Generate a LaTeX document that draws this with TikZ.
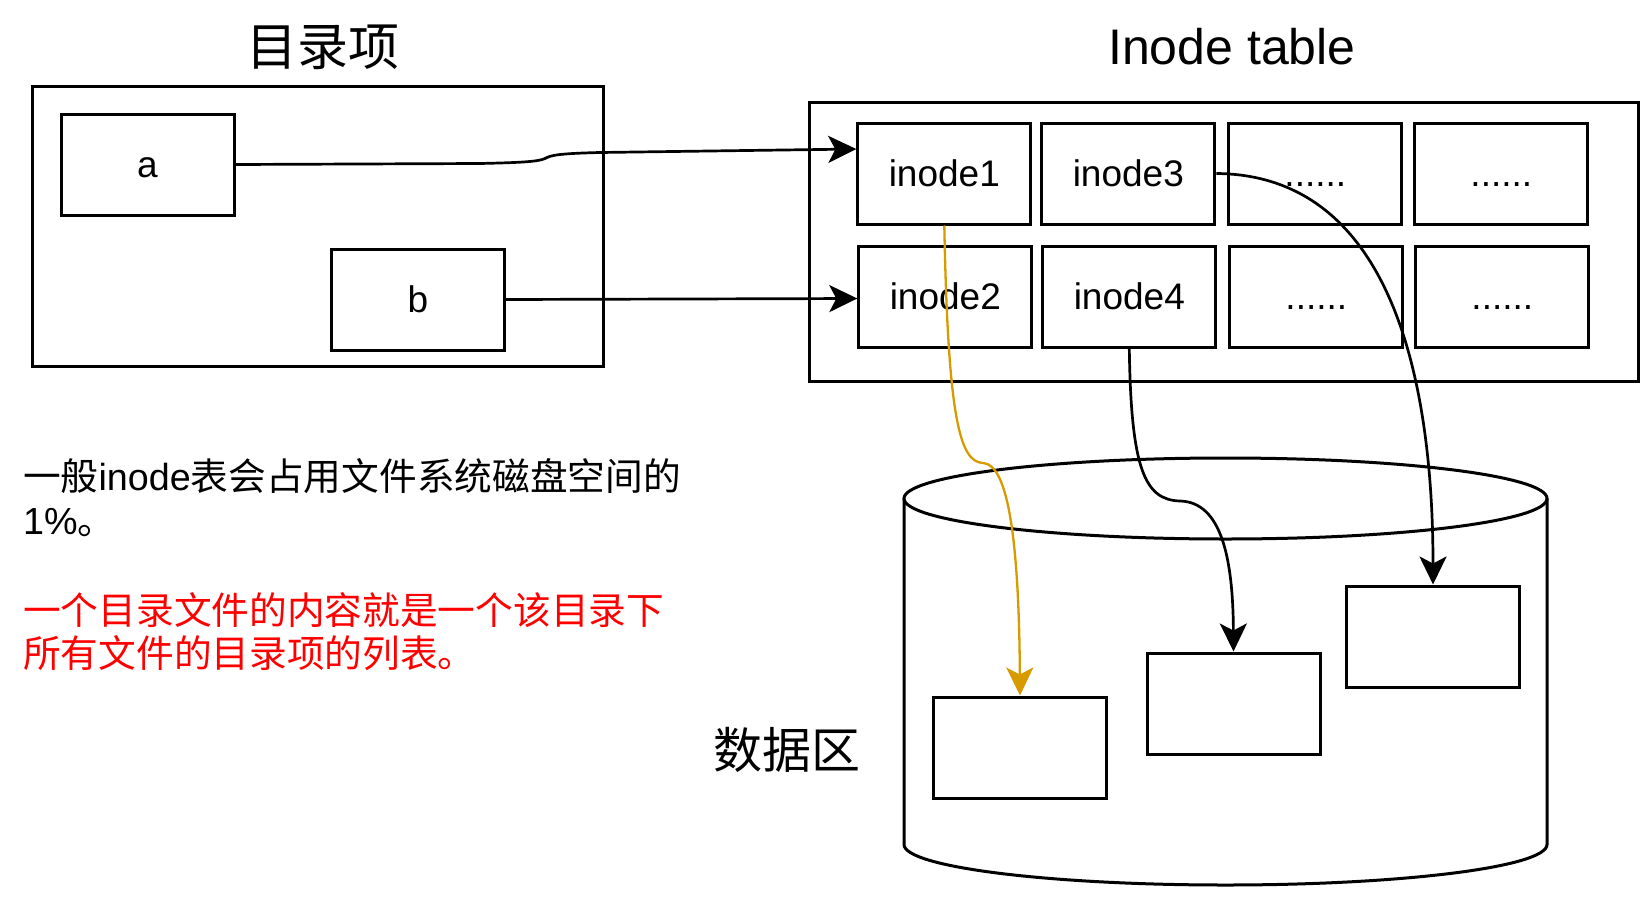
\documentclass[tikz,border=0pt]{standalone}
\usepackage{fontspec}
\setmainfont{Liberation Sans}
\newfontfamily\cjk{Noto Sans CJK SC}
\usetikzlibrary{arrows.meta,calc}
\definecolor{orangeline}{HTML}{D79B00}
\definecolor{redtext}{HTML}{FF0000}
\tikzset{
  frame/.style={draw=black, line width=3pt, fill=none},
  cell/.style={draw=black, line width=3pt, minimum width=173pt, minimum height=101pt,
    inner sep=0pt, text height=26.5pt, text depth=0pt, font=\fontsize{37}{44}\selectfont},
  databox/.style={draw=black, line width=3pt, minimum width=173pt, minimum height=101pt, inner sep=0pt},
  conn/.style={draw=black, line width=2.7pt, -{Stealth[length=28pt,width=27pt,inset=7pt]}},
  orangeconn/.style={draw=orangeline, line width=2.3pt, -{Stealth[length=28pt,width=27pt,inset=7pt]}},
  titletext/.style={inner sep=0pt, font=\fontsize{51}{60}\selectfont},
  bodytext/.style={inner sep=0pt, anchor=base west, font=\fontsize{37.7}{44}\selectfont},
}
\begin{document}
\begin{tikzpicture}[x=1pt,y=-1pt]
\useasboundingbox (0,0) rectangle (1648,910);

% titles
\node[titletext] (t1) at (323,47) {\cjk 目录项};
\node[titletext, font=\fontsize{50}{60}\selectfont] (t2) at (1232,47) {Inode table};

% directory entry box
\node[frame, minimum width=570.7pt, minimum height=280pt, inner sep=0pt] (dir) at (318,226) {};
\node[cell] (a) at (147.5,164.5) {a};
\node[cell] (b) at (418,299.5) {b};

% inode table
\node[frame, minimum width=829.5pt, minimum height=279.5pt, inner sep=0pt] (tab) at (1223.8,241.8) {};
\node[cell] (i1) at (944.3,173.5) {inode1};
\node[cell] (i3) at (1128.3,173.5) {inode3};
\node[cell] (d1) at (1315.3,173.5) {......};
\node[cell] (d2) at (1501.3,173.5) {......};
\node[cell] (i2) at (945.3,296.5) {inode2};
\node[cell] (i4) at (1129.3,296.5) {inode4};
\node[cell] (d3) at (1316.3,296.5) {......};
\node[cell] (d4) at (1502.3,296.5) {......};

% data area cylinder
\draw[line width=3pt, fill=white] (904,498.5) -- (904,844.5)
  arc[start angle=180, end angle=360, x radius=321.5pt, y radius=40.5pt] -- (1547,498.5);
\draw[line width=3pt] (1225.5,498.5) ellipse [x radius=321.5pt, y radius=40.5pt];
\node[databox] (bx1) at (1020,747.5) {};
\node[databox] (bx2) at (1233.5,703.5) {};
\node[databox] (bx3) at (1433,636.5) {};
\node[titletext, font=\fontsize{49}{60}\selectfont] (dz) at (787,750) {\cjk 数据区};

% connectors
\draw[conn] (a.east) -- (480,163.5) .. controls (525,162.5) and (538,161.5) .. (545,158.5)
  .. controls (551,155) and (560,153.5) .. (600,152.5) -- ([yshift=24.5pt]i1.west);
\draw[conn] (b.east) -- ([yshift=-2pt]i2.west);
\draw[orangeconn] (i1.south) .. controls (948,420) and (960,462) .. (983,463)
  .. controls (1008,464) and (1019,540) .. (bx1.north);
\draw[conn] (i4.south) .. controls (1131,470) and (1145,500) .. (1180,501)
  .. controls (1222,502) and (1233,560) .. (bx2.north);
\draw[conn] (i3.east) .. controls (1400,175) and (1433,400) .. (bx3.north);

% notes
\node[bodytext] (n1) at (23,490) {{\cjk 一般}inode{\cjk 表会占用文件系统磁盘空间的}};
\node[bodytext] (n2) at (23,534) {1\%{\cjk 。}};
\node[bodytext, text=redtext] (n3) at (23,624) {\cjk 一个目录文件的内容就是一个该目录下};
\node[bodytext, text=redtext] (n4) at (23,667) {\cjk 所有文件的目录项的列表。};
\end{tikzpicture}
\end{document}
